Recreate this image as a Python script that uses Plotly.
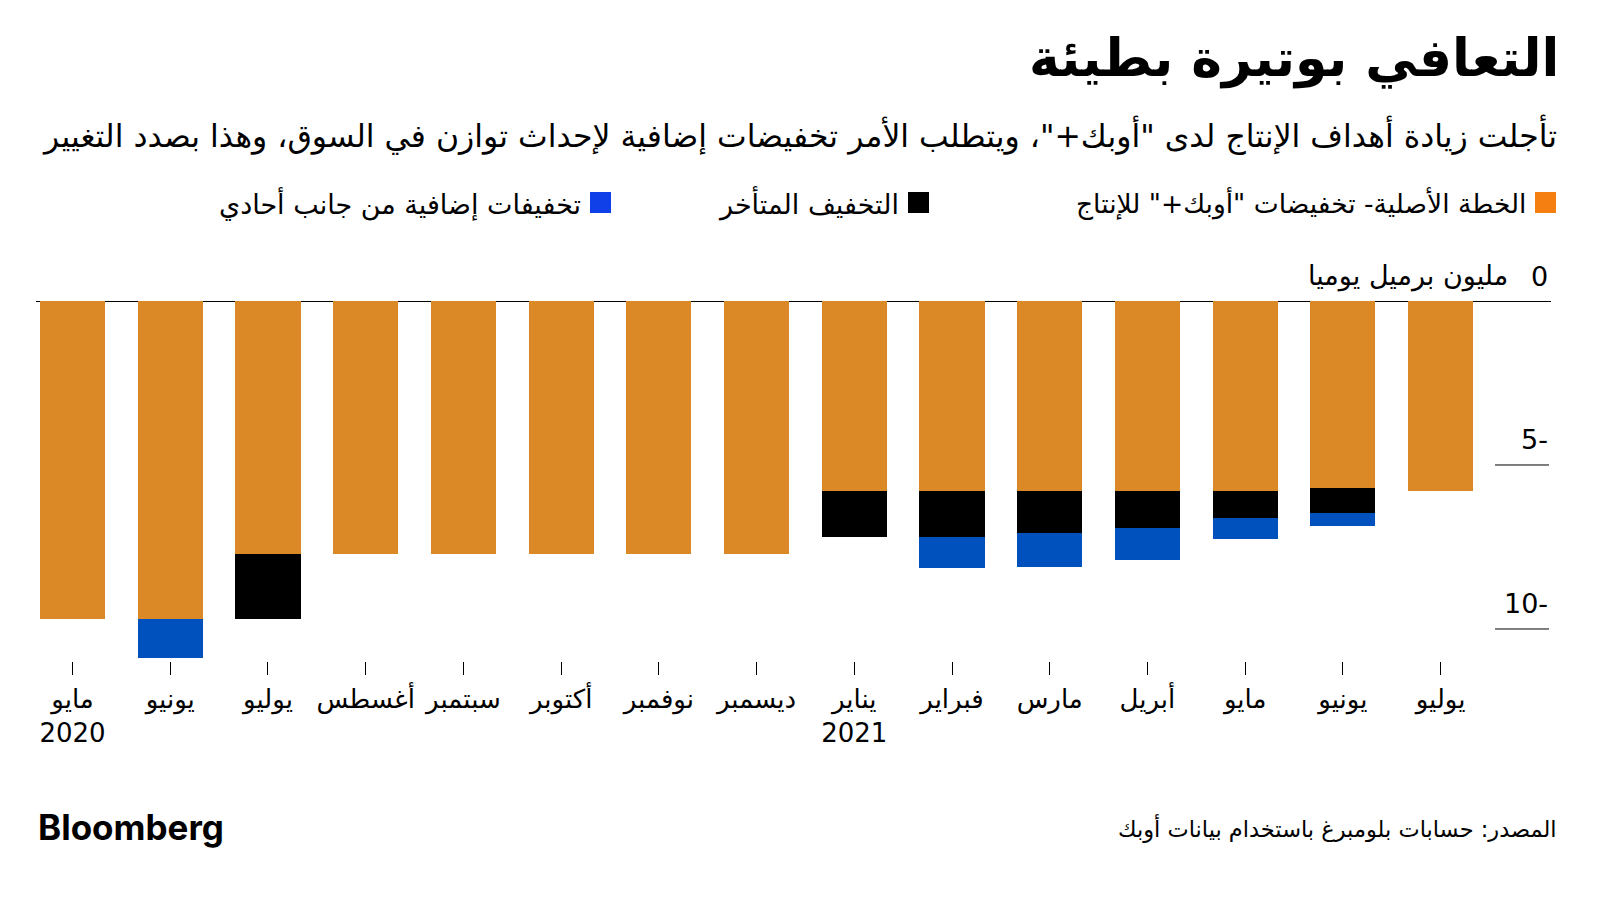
import plotly.graph_objects as go

# ---------------- data ----------------
months = ["مايو<br>2020", "يونيو", "يوليو", "أغسطس", "سبتمبر", "أكتوبر", "نوفمبر",
          "ديسمبر", "يناير<br>2021", "فبراير", "مارس", "أبريل", "مايو", "يونيو", "يوليو"]
original_plan = [-9.7, -9.7, -7.7, -7.7, -7.7, -7.7, -7.7, -7.7,
                 -5.8, -5.8, -5.8, -5.8, -5.8, -5.7, -5.8]
delayed_taper = [0, 0, -2.0, 0, 0, 0, 0, 0,
                 -1.4, -1.4, -1.27, -1.12, -0.82, -0.76, 0]
unilateral_cuts = [0, -1.18, 0, 0, 0, 0, 0, 0,
                   0, -0.94, -1.04, -0.98, -0.63, -0.40, 0]
y_tick_vals = [-10, -5, 0]
y_tick_text = ["10-", "5-", "0"]
y_unit = "مليون برميل يوميا"

series_names = ['الخطة الأصلية- تخفيضات "أوبك+" للإنتاج', "التخفيف المتأخر",
                "تخفيفات إضافية من جانب أحادي"]

# ---------------- style ----------------
ORANGE = "#DA8926"
BLACK = "#000000"
BLUE = "#0050BE"
LEG_ORANGE = "#F57F10"
LEG_BLUE = "#1040E8"
AR = "DejaVu Sans, sans-serif"

OFF = 8  # browser body margin
W, H = 1600 - OFF, 901 - OFF
L, T = 36 - OFF, 301 - OFF
R = W - (1551 - OFF)
B = H - (661 - OFF)
PW, PH = W - L - R, H - T - B


def px(xp):
    xp -= OFF
    return (xp - L) / PW


def py(yp):
    yp -= OFF
    return (H - B - yp) / PH


x = list(range(len(months)))

fig = go.Figure()
for vals, col, name in [(original_plan, ORANGE, series_names[0]),
                        (delayed_taper, BLACK, series_names[1]),
                        (unilateral_cuts, BLUE, series_names[2])]:
    fig.add_trace(go.Bar(x=x, y=vals, marker=dict(color=col, line=dict(width=0)),
                         name=name, width=0.667, showlegend=False))

fig.update_layout(
    barmode="relative",
    width=W, height=H,
    margin=dict(l=L, r=R, t=T, b=B, autoexpand=False),
    paper_bgcolor="white", plot_bgcolor="white",
    font=dict(family=AR, color="black"),
    bargap=0,
)

fig.update_xaxes(
    range=[-0.374, 15.13],
    tickvals=x, ticktext=months,
    ticks="outside", ticklen=13, tickcolor="black", tickwidth=1,
    showgrid=False, zeroline=False, showline=False,
    tickfont=dict(size=26, family=AR, color="black"),
    ticklabelstandoff=2,
)
fig.update_yaxes(
    range=[-10.976, 0],
    side="right",
    tickvals=y_tick_vals, showticklabels=False,
    ticks="", showgrid=False,
    zeroline=True, zerolinecolor="black", zerolinewidth=1.2,
    showline=False,
)

# y tick labels above their values, right-aligned
for v, t in zip(y_tick_vals, y_tick_text):
    fig.add_annotation(xref="paper", yref="y", x=px(1550), y=v, yshift=25,
                       xanchor="right", yanchor="middle", showarrow=False,
                       text=t, font=dict(size=27, family=AR, color="black"))
fig.add_annotation(xref="paper", yref="y", x=px(1510), y=0, yshift=25,
                   xanchor="right", yanchor="middle", showarrow=False,
                   text=y_unit, font=dict(size=27, family=AR, color="black"))

# short gridline segments at the right
for v in [-5, -10]:
    fig.add_shape(type="line", xref="paper", yref="y", x0=px(1495), x1=px(1549),
                  y0=v, y1=v, line=dict(color="black", width=1))

# title & subtitle
fig.add_annotation(xref="paper", yref="paper", x=px(1561), y=py(59), xanchor="right",
                   yanchor="middle", showarrow=False,
                   text="<b>التعافي بوتيرة بطيئة</b>",
                   font=dict(size=52, family=AR, color="black"))
fig.add_annotation(xref="paper", yref="paper", x=px(1559), y=py(134), xanchor="right",
                   yanchor="middle", showarrow=False,
                   text='تأجلت زيادة أهداف الإنتاج لدى "أوبك+"، ويتطلب الأمر تخفيضات إضافية لإحداث توازن في السوق، وهذا بصدد التغيير',
                   font=dict(size=31.5, family=AR, color="black"))

# legend (manual, RTL)
legend_items = [(1556, 1528, LEG_ORANGE, series_names[0], 26.5),
                (929, 901, "black", series_names[1], 27),
                (611, 583, LEG_BLUE, series_names[2], 27)]
for sq_right, text_right, col, label, fs in legend_items:
    fig.add_shape(type="rect", xref="paper", yref="paper",
                  x0=px(sq_right - 21), x1=px(sq_right), y0=py(213), y1=py(192),
                  fillcolor=col, line=dict(width=0))
    fig.add_annotation(xref="paper", yref="paper", x=px(text_right), y=py(203),
                       xanchor="right", yanchor="middle", showarrow=False,
                       text=label, font=dict(size=fs, family=AR, color="black"))

# footer
fig.add_annotation(xref="paper", yref="paper", x=px(36), y=py(827), xanchor="left",
                   yanchor="middle", showarrow=False, text="<b>Bloomberg</b>",
                   font=dict(size=35, family="Inter, Roboto, sans-serif", color="black"))
fig.add_annotation(xref="paper", yref="paper", x=px(1559), y=py(828), xanchor="right",
                   yanchor="middle", showarrow=False,
                   text="المصدر: حسابات بلومبرغ باستخدام بيانات أوبك",
                   font=dict(size=22.5, family=AR, color="black"))

fig.write_html("out.html")
